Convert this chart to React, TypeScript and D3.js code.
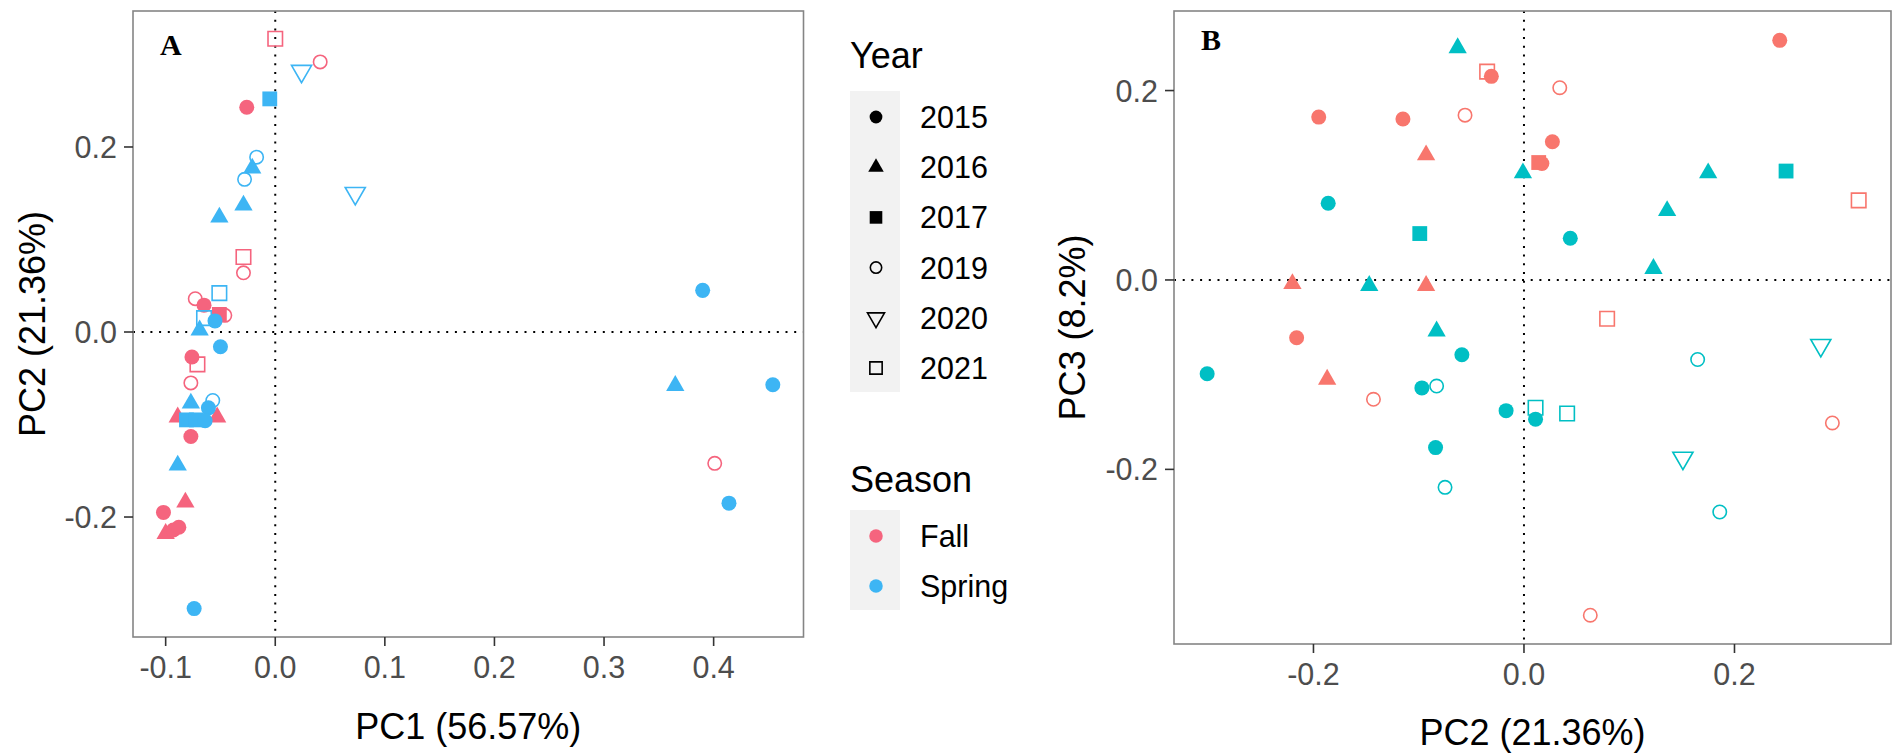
import React from 'react';
import * as d3 from 'd3';

// [year, x, y]
type Pt = [number, number, number];

const years = [2015, 2016, 2017, 2019, 2020, 2021];
const seasons = ['Fall', 'Spring'];

// panel A: PC1 vs PC2
const aFall: Pt[] = [
  [2021, 0.0, 0.317], [2019, 0.041, 0.292], [2015, -0.026, 0.243],
  [2021, -0.029, 0.081], [2019, -0.029, 0.064], [2019, -0.073, 0.036],
  [2015, -0.065, 0.029], [2017, -0.051, 0.019], [2019, -0.046, 0.018],
  [2015, -0.076, -0.027], [2021, -0.071, -0.035], [2019, -0.077, -0.055],
  [2016, -0.089, -0.092], [2016, -0.053, -0.092], [2015, -0.077, -0.113],
  [2016, -0.082, -0.184], [2015, -0.102, -0.195], [2016, -0.1, -0.218],
  [2015, -0.093, -0.214], [2015, -0.088, -0.211], [2019, 0.401, -0.142],
];
const aSpring: Pt[] = [
  [2020, 0.024, 0.282], [2020, 0.073, 0.15], [2017, -0.005, 0.252],
  [2019, -0.017, 0.189], [2016, -0.021, 0.177], [2019, -0.028, 0.165],
  [2016, -0.029, 0.137], [2016, -0.051, 0.124], [2021, -0.051, 0.042],
  [2021, -0.065, 0.015], [2015, -0.055, 0.012], [2016, -0.069, 0.002],
  [2015, -0.05, -0.016], [2016, -0.077, -0.077], [2019, -0.057, -0.074],
  [2015, -0.061, -0.082], [2017, -0.081, -0.095], [2017, -0.072, -0.095],
  [2015, -0.064, -0.096], [2016, -0.089, -0.144], [2015, -0.074, -0.299],
  [2015, 0.39, 0.045], [2016, 0.365, -0.058], [2015, 0.454, -0.057],
  [2015, 0.414, -0.185],
];

// panel B: PC2 vs PC3
const bFall: Pt[] = [
  [2021, -0.035, 0.22], [2015, -0.031, 0.215], [2015, -0.195, 0.172],
  [2015, -0.115, 0.17], [2019, -0.056, 0.174], [2016, -0.093, 0.132],
  [2016, -0.22, -0.004], [2016, -0.093, -0.006], [2015, -0.216, -0.061],
  [2016, -0.187, -0.105], [2019, -0.143, -0.126], [2015, 0.243, 0.253],
  [2019, 0.034, 0.203], [2015, 0.027, 0.146], [2017, 0.014, 0.124],
  [2015, 0.017, 0.123], [2021, 0.318, 0.084], [2021, 0.079, -0.041],
  [2019, 0.293, -0.151], [2019, 0.063, -0.354],
];
const bSpring: Pt[] = [
  [2016, -0.063, 0.245], [2015, -0.186, 0.081], [2017, -0.099, 0.049],
  [2016, -0.147, -0.006], [2016, -0.083, -0.054], [2015, -0.059, -0.079],
  [2015, -0.301, -0.099], [2015, -0.097, -0.114], [2019, -0.083, -0.112],
  [2015, -0.017, -0.138], [2015, -0.084, -0.177], [2019, -0.075, -0.219],
  [2016, -0.001, 0.113], [2016, 0.175, 0.113], [2017, 0.249, 0.115],
  [2016, 0.136, 0.073], [2015, 0.044, 0.044], [2016, 0.123, 0.012],
  [2019, 0.165, -0.084], [2020, 0.282, -0.069], [2021, 0.011, -0.135],
  [2015, 0.011, -0.147], [2021, 0.041, -0.141], [2020, 0.151, -0.188],
  [2019, 0.186, -0.245],
];

const aXTicks = [-0.1, 0, 0.1, 0.2, 0.3, 0.4];
const aYTicks = [-0.2, 0, 0.2];
const bXTicks = [-0.2, 0, 0.2];
const bYTicks = [-0.2, 0, 0.2];

const colorsA = ['#F5647E', '#3DB5F4'];
const colorsB = ['#F8766D', '#00BFC4'];

const FONT = "'Liberation Sans', Arial, sans-serif";
const TICK_COL = '#4D4D4D';

const shapes: Record<number, { type: d3.SymbolType; size: number; fill: boolean; rot?: number }> = {
  2015: { type: d3.symbolCircle, size: 177, fill: true },
  2016: { type: d3.symbolTriangle, size: 145, fill: true },
  2017: { type: d3.symbolSquare, size: 220, fill: true },
  2019: { type: d3.symbolCircle, size: 141, fill: false },
  2020: { type: d3.symbolTriangle, size: 175, fill: false, rot: 180 },
  2021: { type: d3.symbolSquare, size: 210, fill: false },
};

const Marker = ({ year, x, y, color, scale = 1 }: any) => {
  const s = shapes[year];
  const d = d3.symbol(s.type, s.size * scale * scale)() as string;
  return (
    <path
      d={d}
      transform={`translate(${x},${y}) rotate(${s.rot || 0})`}
      fill={s.fill ? color : 'none'}
      stroke={s.fill ? 'none' : color}
      strokeWidth={1.6}
    />
  );
};

const fmt = (v: number) => v.toFixed(1);

const Panel = ({ x, y, ticksX, ticksY, fall, spring, colors, label, titleX, titleY, xLabY, titleXY, titleYX }: any) => {
  const [x0, x1] = x.range();
  const [y1, y0] = y.range();
  return (
    <g>
      <rect x={x0} y={y0} width={x1 - x0} height={y1 - y0} fill="#fff" />
      <line x1={x(0)} x2={x(0)} y1={y0} y2={y1} stroke="#000" strokeWidth={2} strokeDasharray="2 6.7" />
      <line x1={x0} x2={x1} y1={y(0)} y2={y(0)} stroke="#000" strokeWidth={2} strokeDasharray="2 6.7" />
      {fall.map((p: Pt, i: number) => (
        <Marker key={'f' + i} year={p[0]} x={x(p[1])} y={y(p[2])} color={colors[0]} />
      ))}
      {spring.map((p: Pt, i: number) => (
        <Marker key={'s' + i} year={p[0]} x={x(p[1])} y={y(p[2])} color={colors[1]} />
      ))}
      <rect x={x0} y={y0} width={x1 - x0} height={y1 - y0} fill="none" stroke="#858585" strokeWidth={1.6} />
      {ticksX.map((t: number) => (
        <g key={'x' + t}>
          <line x1={x(t)} x2={x(t)} y1={y1} y2={y1 + 9} stroke="#333" strokeWidth={1.6} />
          <text x={x(t)} y={xLabY} textAnchor="middle" fontSize={30.5} fill={TICK_COL} fontFamily={FONT}>{fmt(t)}</text>
        </g>
      ))}
      {ticksY.map((t: number) => (
        <g key={'y' + t}>
          <line x1={x0 - 9} x2={x0} y1={y(t)} y2={y(t)} stroke="#333" strokeWidth={1.6} />
          <text x={x0 - 16} y={y(t) + 11} textAnchor="end" fontSize={30.5} fill={TICK_COL} fontFamily={FONT}>{fmt(t)}</text>
        </g>
      ))}
      <text x={(x0 + x1) / 2} y={titleXY} textAnchor="middle" fontSize={36} fill="#000" fontFamily={FONT}>{titleX}</text>
      <text transform={`translate(${titleYX},${(y0 + y1) / 2}) rotate(-90)`} textAnchor="middle" fontSize={36} fill="#000" fontFamily={FONT}>{titleY}</text>
      <text x={x0 + 27} y={y0 + (label === 'A' ? 44 : 39)} fontSize={30} fontWeight="bold" fontFamily="'Liberation Serif', 'Times New Roman', serif">{label}</text>
    </g>
  );
};

const App = () => {
  const xA = d3.scaleLinear().domain([-0.1298, 0.482]).range([133, 803.5]);
  const yA = d3.scaleLinear().domain([-0.3297, 0.347]).range([637, 11]);
  const xB = d3.scaleLinear().domain([-0.3325, 0.3487]).range([1174, 1891]);
  const yB = d3.scaleLinear().domain([-0.3844, 0.284]).range([644, 11]);

  const keyX = 876;
  const yearKeyY = (i: number) => 117 + i * 50.2;
  const seasonKeyY = (i: number) => 536 + i * 50;

  return (
    <svg width={1894} height={755} style={{ position: 'absolute', left: 0, top: 0, background: '#fff' }}>
      <Panel x={xA} y={yA} ticksX={aXTicks} ticksY={aYTicks} fall={aFall} spring={aSpring}
        colors={colorsA} label="A" titleX="PC1 (56.57%)" titleY="PC2 (21.36%)"
        xLabY={678} titleXY={739} titleYX={45} />
      <Panel x={xB} y={yB} ticksX={bXTicks} ticksY={bYTicks} fall={bFall} spring={bSpring}
        colors={colorsB} label="B" titleX="PC2 (21.36%)" titleY="PC3 (8.2%)"
        xLabY={685} titleXY={745} titleYX={1085} />

      {/* legend: Year */}
      <text x={850} y={68} fontSize={36} fontFamily={FONT}>Year</text>
      <rect x={850} y={91} width={50} height={301} fill="#F2F2F2" />
      {years.map((yr, i) => (
        <g key={yr}>
          <Marker year={yr} x={keyX} y={yearKeyY(i)} color="#000" scale={0.85} />
          <text x={920} y={yearKeyY(i) + 11} fontSize={30.5} fontFamily={FONT}>{yr}</text>
        </g>
      ))}

      {/* legend: Season */}
      <text x={850} y={492} fontSize={36} fontFamily={FONT}>Season</text>
      <rect x={850} y={510} width={50} height={100} fill="#F2F2F2" />
      {seasons.map((s, i) => (
        <g key={s}>
          <Marker year={2015} x={keyX} y={seasonKeyY(i)} color={colorsA[i]} scale={0.9} />
          <text x={920} y={seasonKeyY(i) + 11} fontSize={30.5} fontFamily={FONT}>{s}</text>
        </g>
      ))}
    </svg>
  );
};

export default App;
